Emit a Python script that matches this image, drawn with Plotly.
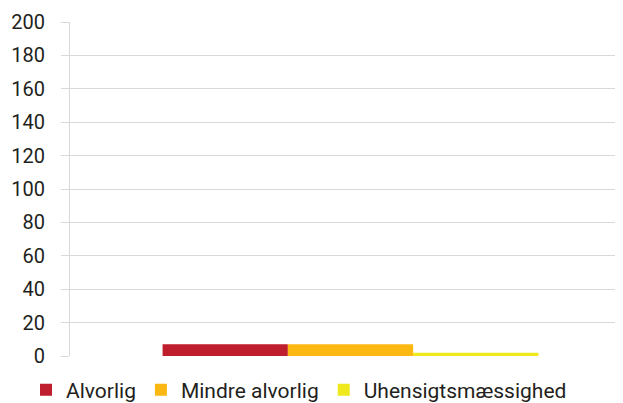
import plotly.graph_objects as go

categories = [""]
series_names = ["Alvorlig", "Mindre alvorlig", "Uhensigtsmæssighed"]
alvorlig = [7]
mindre_alvorlig = [7]
uhensigtsmaessighed = [2]
colors = ["#be1e2d", "#fbb812", "#eee81d"]
y_ticks = [0, 20, 40, 60, 80, 100, 120, 140, 160, 180, 200]

fig = go.Figure()
for name, vals, col in zip(series_names, [alvorlig, mindre_alvorlig, uhensigtsmaessighed], colors):
    fig.add_trace(go.Bar(x=categories, y=vals, name=name, marker=dict(color=col, line=dict(width=0))))

fig.update_layout(
    width=623, height=403,
    margin=dict(l=62, r=0, t=14, b=55, autoexpand=False),
    paper_bgcolor="white", plot_bgcolor="white",
    barmode="group", bargap=0.33, bargroupgap=0,
    font=dict(family="Roboto", color="#231f20", size=20),
    showlegend=True,
    legend=dict(orientation="h", xref="container", yref="container", x=18/623, xanchor="left",
                y=1 - 382/403, yanchor="middle", font=dict(size=21), itemwidth=30, tracegroupgap=0,
                bgcolor="rgba(0,0,0,0)"),
    xaxis=dict(showgrid=False, showline=False, showticklabels=False, ticks="", zeroline=False),
    yaxis=dict(range=[0, 200], tickvals=y_ticks, showgrid=True, gridcolor="#d9d9d9", gridwidth=1,
               zeroline=False, showline=True, linecolor="#d9d9d9", linewidth=1,
               ticks="outside", ticklen=8, tickcolor="#d9d9d9", ticklabelstandoff=12,
               tickfont=dict(size=20)),
)

fig.write_html("out.html")
